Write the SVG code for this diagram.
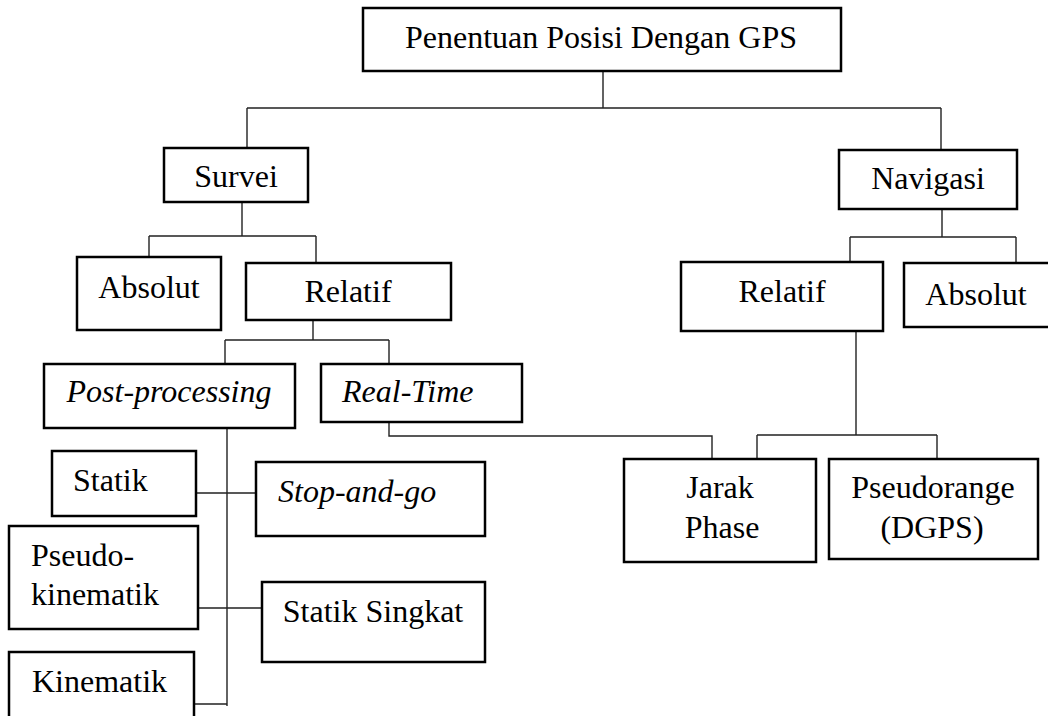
<svg xmlns="http://www.w3.org/2000/svg" width="1048" height="716" viewBox="0 0 1048 716">
  <style>
    .box { fill: #fff; stroke: #000; stroke-width: 2.5; }
    .lbl { font-family: "Liberation Serif", "Times New Roman", serif; font-size: 32px; fill: #000; }
    .mid { text-anchor: middle; }
    .it { font-style: italic; }
    .wire { fill: none; stroke: #222; stroke-width: 1.4; }
  </style>
  <rect x="0" y="0" width="1048" height="716" fill="#fff"/>

  <!-- connectors -->
  <g id="connectors" class="wire">
    <path d="M603,71 V108 M247,108 H941 M247,108 V148 M941,108 V150"/>
    <path d="M242,202 V236 M149,236 H316 M149,236 V257 M316,236 V263"/>
    <path d="M942,209 V237 M850,237 H1016 M850,237 V262 M1016,237 V263"/>
    <path d="M313,320 V340 M225,340 H389 M225,340 V364 M389,340 V364"/>
    <path d="M227,428 V706"/>
    <path d="M196,493 H256 M198,608 H262 M194,704 H227"/>
    <path d="M389,422 V436 H712 V459"/>
    <path d="M856,331 V435 M757,435 H937 M757,435 V459 M937,435 V459"/>
  </g>

  <g id="gps">
    <rect class="box" x="363" y="8" width="478" height="63"/>
    <text class="lbl mid" x="601" y="48">Penentuan Posisi Dengan GPS</text>
  </g>
  <g id="survei">
    <rect class="box" x="164" y="148" width="144" height="54"/>
    <text class="lbl mid" x="236" y="187">Survei</text>
  </g>
  <g id="navigasi">
    <rect class="box" x="839" y="150" width="178" height="59"/>
    <text class="lbl mid" x="928" y="189">Navigasi</text>
  </g>
  <g id="survei-absolut">
    <rect class="box" x="77" y="257" width="144" height="73"/>
    <text class="lbl mid" x="149" y="298">Absolut</text>
  </g>
  <g id="survei-relatif">
    <rect class="box" x="246" y="263" width="205" height="57"/>
    <text class="lbl mid" x="348" y="302">Relatif</text>
  </g>
  <g id="nav-relatif">
    <rect class="box" x="681" y="262" width="202" height="69"/>
    <text class="lbl mid" x="782" y="302">Relatif</text>
  </g>
  <g id="nav-absolut">
    <rect class="box" x="904" y="263" width="150" height="64"/>
    <text class="lbl mid" x="976" y="305">Absolut</text>
  </g>
  <g id="post-processing">
    <rect class="box" x="44" y="364" width="251" height="64"/>
    <text class="lbl mid it" x="169" y="402">Post-processing</text>
  </g>
  <g id="real-time">
    <rect class="box" x="321" y="364" width="201" height="58"/>
    <text class="lbl it" x="342" y="402">Real-Time</text>
  </g>
  <g id="statik">
    <rect class="box" x="52" y="451" width="144" height="65"/>
    <text class="lbl" x="73" y="491">Statik</text>
  </g>
  <g id="stop-and-go">
    <rect class="box" x="256" y="462" width="229" height="74"/>
    <text class="lbl it" x="278" y="502">Stop-and-go</text>
  </g>
  <g id="pseudo-kinematik">
    <rect class="box" x="9" y="526" width="189" height="103"/>
    <text class="lbl" x="31" y="566">Pseudo-</text>
    <text class="lbl" x="31" y="605">kinematik</text>
  </g>
  <g id="statik-singkat">
    <rect class="box" x="262" y="582" width="223" height="80"/>
    <text class="lbl mid" x="373" y="622">Statik Singkat</text>
  </g>
  <g id="kinematik">
    <rect class="box" x="9" y="652" width="185" height="80"/>
    <text class="lbl" x="32" y="692">Kinematik</text>
  </g>
  <g id="jarak-phase">
    <rect class="box" x="624" y="459" width="192" height="103"/>
    <text class="lbl mid" x="720" y="498">Jarak</text>
    <text class="lbl mid" x="722" y="538">Phase</text>
  </g>
  <g id="pseudorange">
    <rect class="box" x="829" y="459" width="209" height="100"/>
    <text class="lbl mid" x="933" y="498">Pseudorange</text>
    <text class="lbl mid" x="932" y="538">(DGPS)</text>
  </g>
</svg>
